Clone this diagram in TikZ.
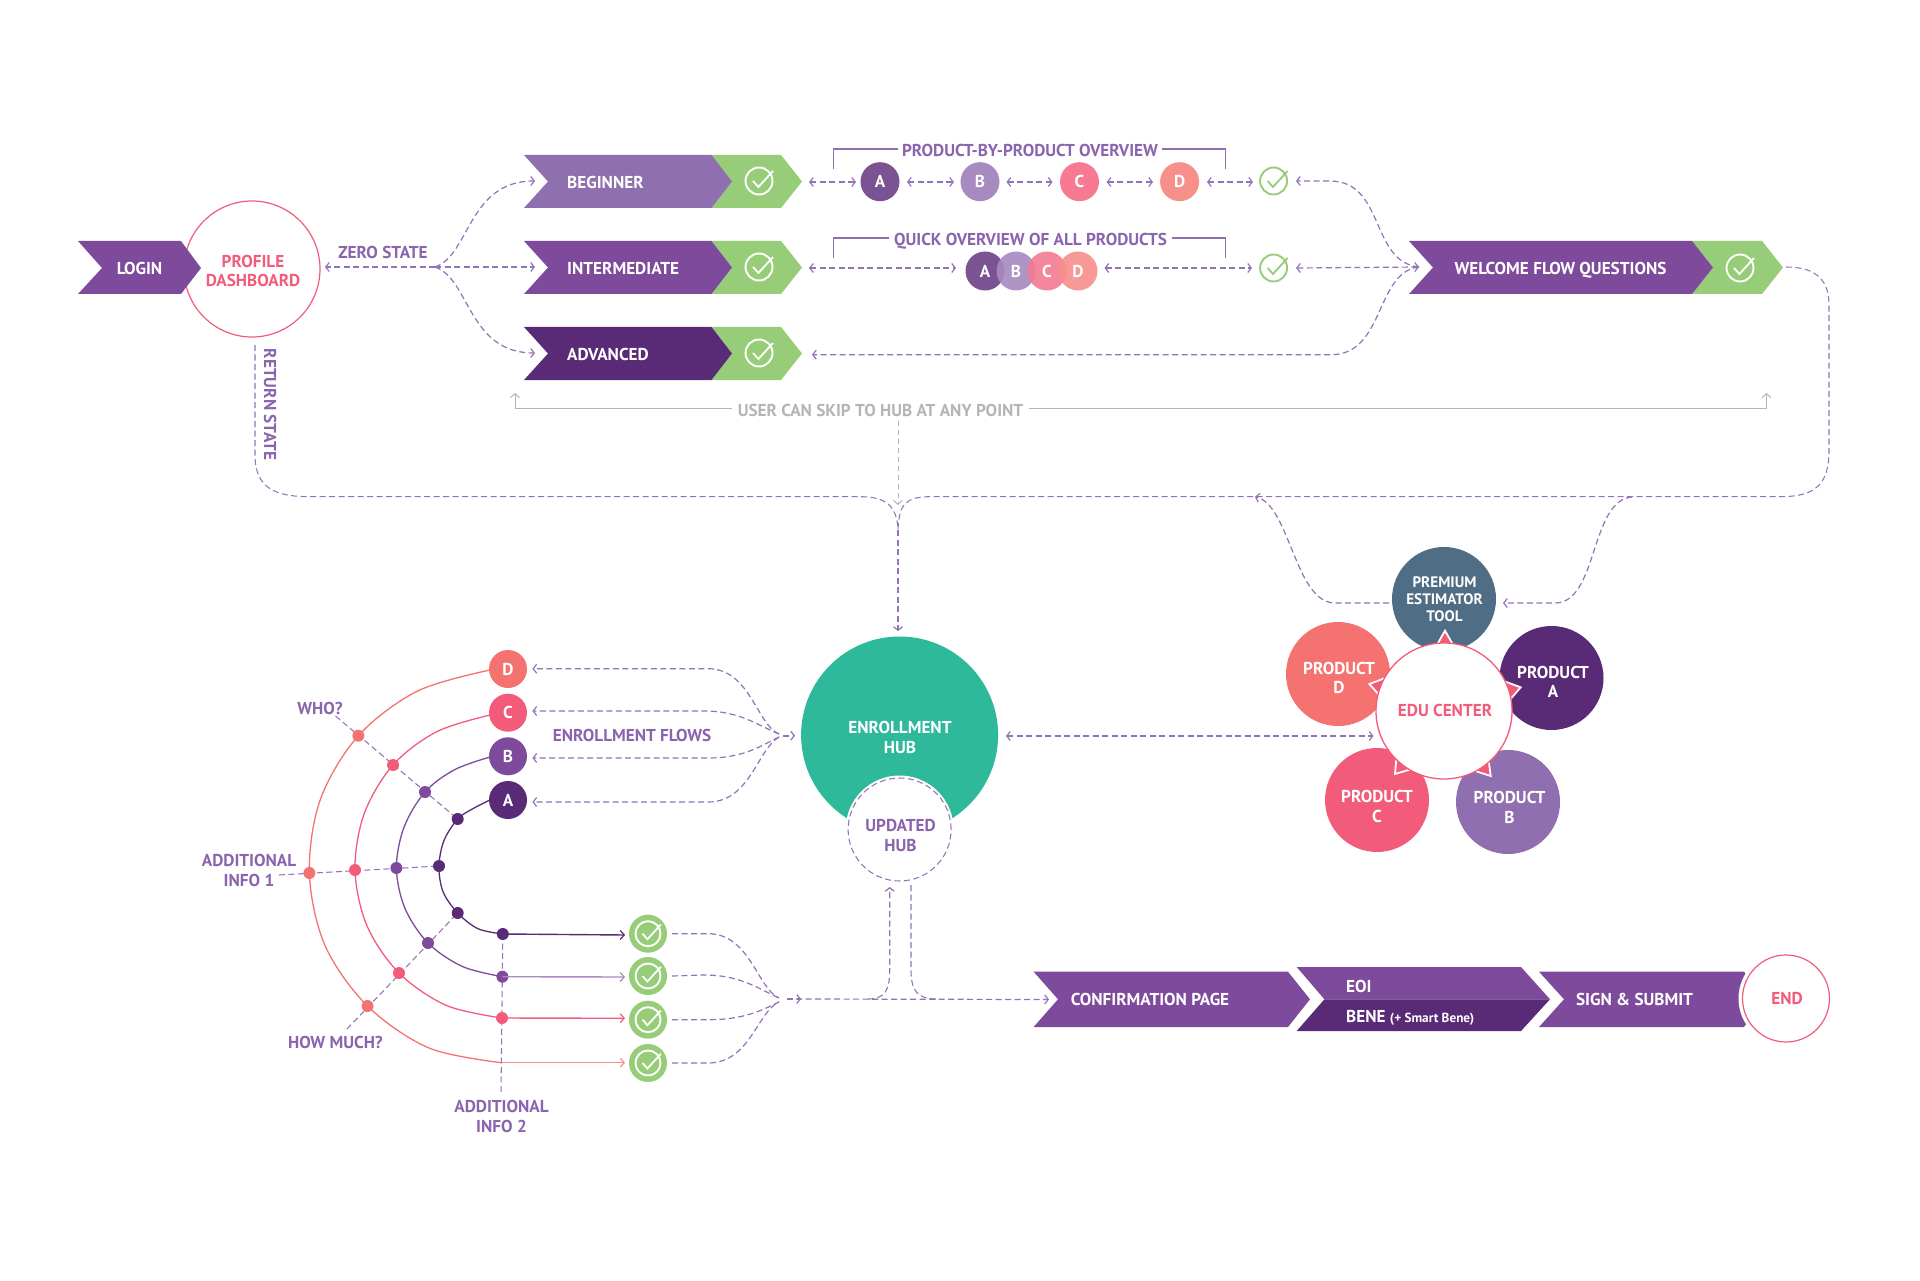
\documentclass[tikz,border=0pt]{standalone}
\usepackage{fontspec}
\setmainfont{PT Sans}
\usetikzlibrary{arrows.meta}
\definecolor{pmid}{HTML}{7E4A9B}
\definecolor{plight}{HTML}{8F6FAF}
\definecolor{pdark}{HTML}{592A75}
\definecolor{ptext}{HTML}{8A64AE}
\definecolor{dashc}{HTML}{9273B8}
\definecolor{grn}{HTML}{97CC78}
\definecolor{teal}{HTML}{2EB99B}
\definecolor{salm}{HTML}{F47370}
\definecolor{pnk}{HTML}{F25C7A}
\definecolor{slate}{HTML}{4F6D85}
\definecolor{gry}{HTML}{B5B5B5}
\definecolor{ta}{HTML}{7B5292}
\definecolor{tb}{HTML}{A78AC0}
\definecolor{tc}{HTML}{F57A92}
\definecolor{td}{HTML}{F78F8B}
\newcommand{\chev}[8]{\fill[#1] (#2,#6) -- (#4,#6) -- (#5,#7) -- (#4,#8) -- (#2,#8) -- (#3,#7) -- cycle;}
\newcommand{\tickin}[3]{\draw[#3,line width=1.8pt,line join=miter,shift={(#1.center)},scale=#2] (-6,0) -- (-0.6,6) -- (14,-10);}
\tikzset{
 x=1pt,y=-1pt,
 lbl/.style={font=\bfseries\fontsize{17.2}{19.5}\selectfont,align=center,inner sep=0pt,text=white},
 one/.style={text height=12pt,text depth=0pt},
 plab/.style={lbl,text=ptext},
 pinklab/.style={lbl,text=pnk},
 graylab/.style={lbl,text=gry},
 dsh/.style={draw=dashc,line width=1.2pt,dash pattern=on 6pt off 3.5pt},
 thin dsh/.style={draw=dashc,line width=1.05pt,dash pattern=on 6pt off 3.5pt},
 arr/.style={-{Straight Barb[length=3.5pt,width=9pt,line width=1.2pt]}},
 dbl/.style={{Straight Barb[length=3.5pt,width=9pt,line width=1.2pt]}-{Straight Barb[length=3.5pt,width=9pt,line width=1.2pt]}},
 solarr/.style={-{Straight Barb[length=4pt,width=9pt,line width=1.2pt]},line width=1.4pt},
 disc/.style={circle,inner sep=0pt,outer sep=0pt,minimum size=#1,lbl,one},
 ring/.style={circle,inner sep=0pt,outer sep=0pt,minimum size=#1,draw=grn,line width=1.9pt},
 wring/.style={circle,inner sep=0pt,outer sep=0pt,minimum size=#1,draw=white,line width=1.9pt},
 dot/.style={circle,inner sep=0pt,outer sep=0pt,minimum size=12pt},
 graytip/.style={-{Straight Barb[length=4pt,width=9pt,line width=1pt]},draw=gry,line width=1pt},
 star/.style={fill=pnk,draw=white,line width=1.8pt,line join=miter},
}
\begin{document}
\begin{tikzpicture}
\useasboundingbox (0,0) rectangle (1920,1281);
\fill[white] (0,0) rectangle (1920,1281);

% --- login + profile
\node[circle,draw=pnk,fill=white,line width=1.2pt,minimum size=136pt,inner sep=0pt,outer sep=0pt] (profile) at (252,269) {};
\chev{pmid}{78}{102}{181}{201}{241}{268}{294}
\node[lbl,one] (login) at (139.5,268.5) {LOGIN};
\node[pinklab] (profiletxt) at (253,271.2) {PROFILE\\DASHBOARD};

% --- level chevrons
\chev{grn}{711.5}{732}{781}{802}{155}{181.5}{208}
\chev{plight}{524}{548}{711.5}{732}{155}{181.5}{208}
\chev{grn}{711.5}{732}{781}{802}{241}{267.5}{294}
\chev{pmid}{524}{548}{711.5}{732}{241}{267.5}{294}
\chev{grn}{711.5}{732}{781}{802}{327}{353.5}{380}
\chev{pdark}{524}{548}{711.5}{732}{327}{353.5}{380}
\node[lbl,one,anchor=west] (beginner) at (567,182.5) {BEGINNER};
\node[lbl,one,anchor=west] (intermediate) at (567,268.5) {INTERMEDIATE};
\node[lbl,one,anchor=west] (advanced) at (567,354.5) {ADVANCED};
\node[wring=27pt] (ck1) at (759,181) {}; \tickin{ck1}{1}{white}
\node[wring=27pt] (ck2) at (759,267) {}; \tickin{ck2}{1}{white}
\node[wring=27pt] (ck3) at (759,353) {}; \tickin{ck3}{1}{white}

% --- welcome chevron
\chev{grn}{1692}{1713}{1762}{1783}{241}{267.5}{294}
\chev{pmid}{1409}{1433}{1692}{1713}{241}{267.5}{294}
\node[lbl,one,anchor=center] (welcome) at (1560.5,268.5) {WELCOME FLOW QUESTIONS};
\node[wring=27pt] (ck4) at (1740,268) {}; \tickin{ck4}{1}{white}

% --- zero state connectors
\coordinate (split) at (435,267);
\coordinate (inBeg) at (535,181);
\coordinate (inInt) at (535,267);
\coordinate (inAdv) at (535,353);
\coordinate (welIn) at (1419,267);
\draw[dsh,arr] (split) -- (325,267);
\draw[dsh,arr] (split) -- (inInt);
\draw[dsh,arr] (split) .. controls (470,255) and (468,181) .. (inBeg);
\draw[dsh,arr] (split) .. controls (470,279) and (468,353) .. (inAdv);
\node[plab,one] (zero) at (383,252.5) {ZERO STATE};

% --- return state
\node[plab,one,rotate=-90] (ret) at (270,404.5) {RETURN STATE};
\coordinate (hubdrop) at (898,530);
\coordinate (retstart) at (255,345);
\coordinate (welOut) at (1786,267);
\draw[thin dsh] (retstart) -- (255,455) .. controls (255,488) and (275,496.7) .. (310,496.7) -- (860,496.7) .. controls (885,496.7) and (897,505) .. (hubdrop);
\draw[thin dsh] (welOut) .. controls (1810,267) and (1829,275) .. (1829,305) -- (1829,450) .. controls (1829,485) and (1815,496.7) .. (1780,496.7) -- (930,496.7) .. controls (905,496.7) and (899,505) .. (hubdrop);

% --- row 1
\node[plab,one,outer sep=4pt] (pbp) at (1030,151) {PRODUCT-BY-PRODUCT OVERVIEW};
\draw[draw=plight,line width=1.1pt] (833.5,169) -- (833.5,149) -- (pbp.west |- 0,149);
\draw[draw=plight,line width=1.1pt] (1225.5,169) -- (1225.5,149) -- (pbp.east |- 0,149);
\node[disc=39pt,fill=ta] (a1) at (880,181.7) {A};
\node[disc=39pt,fill=tb] (b1) at (980,181.7) {B};
\node[disc=39pt,fill=tc] (c1) at (1079.5,181.7) {C};
\node[disc=39pt,fill=td] (d1) at (1179.6,181.7) {D};
\node[ring=27pt] (g1) at (1273.6,181) {}; \tickin{g1}{1}{grn}
\coordinate (r1s) at (809,182);
\draw[dsh,dbl] (r1s) -- (856,182);
\draw[dsh,dbl] (907,182) -- (954,182);
\draw[dsh,dbl] (1006.5,182) -- (1052.5,182);
\draw[dsh,dbl] (1106.6,182) -- (1153,182);
\draw[dsh,dbl] (1207,182) -- (1253,182);
\draw[dsh,arr] (welIn) .. controls (1370,262) and (1385,181) .. (1330,181) -- (1296,181);

% --- row 2
\node[plab,one,outer sep=5pt] (qo) at (1030.5,240) {QUICK OVERVIEW OF ALL PRODUCTS};
\draw[draw=plight,line width=1.1pt] (833.5,258) -- (833.5,238) -- (qo.west |- 0,238);
\draw[draw=plight,line width=1.1pt] (1225.5,258) -- (1225.5,238) -- (qo.east |- 0,238);
\node[disc=39pt,fill=ta] (a2) at (985,271) {};
\node[disc=39pt,fill=tb,fill opacity=.9] (b2) at (1016,271) {};
\node[disc=39pt,fill=tc,fill opacity=.9] (c2) at (1047,271) {};
\node[disc=39pt,fill=td,fill opacity=.9] (d2) at (1078,271) {};
\node[lbl,one] (a2t) at (985,271.5) {A};
\node[lbl,one] (b2t) at (1016,271.5) {B};
\node[lbl,one] (c2t) at (1047,271.5) {C};
\node[lbl,one] (d2t) at (1078,271.5) {D};
\node[ring=27pt] (g2) at (1273.6,268) {}; \tickin{g2}{1}{grn}
\draw[dsh,dbl] (809,268) -- (956,268);
\draw[dsh,dbl] (1104.5,268) -- (1252,268);
\draw[dsh,dbl] (1296,268) -- (welIn);

% --- row 3
\draw[dsh,arr] (welIn) .. controls (1375,272) and (1385,354.7) .. (1331,354.7) -- (812,354.7);

% --- skip
\node[graylab,one,outer sep=6pt] (skip) at (880.5,410) {USER CAN SKIP TO HUB AT ANY POINT};
\draw[graytip] (skip.west |- 0,408) -- (515,408) -- (515,393);
\draw[graytip] (skip.east |- 0,408) -- (1766.5,408) -- (1766.5,393);
\draw[draw=gry,line width=.8pt,dash pattern=on 5pt off 4pt,-{Straight Barb[length=4pt,width=9pt,line width=1pt]}] (898,421) -- (898,505);

% --- enrollment hub
\node[circle,fill=teal,minimum size=197pt,inner sep=0pt,outer sep=0pt] (hub) at (899.6,735) {};
\node[lbl] (hubt) at (900,737.5) {ENROLLMENT\\HUB};
\node[circle,fill=white,minimum size=108pt,inner sep=0pt,outer sep=0pt] (upd) at (899.6,829.5) {};
\node[circle,thin dsh,minimum size=103pt,inner sep=0pt,outer sep=0pt] (updr) at (899.6,829.5) {};
\node[plab] (updt) at (900.5,835.5) {UPDATED\\HUB};
\draw[thin dsh,line width=1.2pt,arr] (hubdrop) -- (898,631);

% --- edu cluster
\node[disc=104pt,fill=slate] (prem) at (1444,599) {};
\node[disc=104pt,fill=pdark] (pa) at (1551.5,678) {};
\node[disc=104pt,fill=salm] (pd) at (1338,674) {};
\node[disc=104pt,fill=pnk] (pc) at (1377,800) {};
\node[disc=104pt,fill=plight] (pb) at (1508,802) {};
\path[star] (1445,630.7) -- (1434,650) -- (1456,650) -- cycle;
\path[star] (1520.7,687.3) -- (1501,680) -- (1508,702) -- cycle;
\path[star] (1490.7,776) -- (1472,770) -- (1488,755) -- cycle;
\path[star] (1369.3,684) -- (1388,677) -- (1381,697) -- cycle;
\path[star] (1395,774) -- (1397,752) -- (1415,768) -- cycle;
\node[circle,draw=pnk,fill=white,line width=1.3pt,minimum size=136pt,inner sep=0pt,outer sep=0pt] (edu) at (1444,711) {};
\node[pinklab,one] (edut) at (1445,710.5) {EDU CENTER};
\node[lbl,font=\bfseries\fontsize{15.2}{17.2}\selectfont] (premt) at (1444.5,599.5) {PREMIUM\\ESTIMATOR\\TOOL};
\node[lbl] (pat) at (1553,682) {PRODUCT\\A};
\node[lbl] (pdt) at (1339,678) {PRODUCT\\D};
\node[lbl] (pct) at (1377,806.5) {PRODUCT\\C};
\node[lbl] (pbt) at (1509.5,807.5) {PRODUCT\\B};
\draw[dsh,dbl] (1006,736) -- (1373.5,736);
\coordinate (skipJoin) at (1255,496.7);
\draw[dsh,arr] (1389,603) -- (1335,603) .. controls (1295,603) and (1290,505) .. (skipJoin);
\draw[dsh,arr] (1632,497) .. controls (1590,500) and (1598,603) .. (1555,603) -- (1503,603);

% --- enrollment flow arcs
\node[disc=38pt,fill=salm] (fd) at (508,669) {D};
\node[disc=38pt,fill=pnk] (fc) at (508,712.7) {C};
\node[disc=38pt,fill=pmid] (fb) at (508,756.3) {B};
\node[disc=38pt,fill=pdark] (fa) at (508,800) {A};

\coordinate (whoEnd) at (335.5,716);
\coordinate (infoEnd) at (279,875);
\coordinate (howEnd) at (347,1029);
\coordinate (info2End) at (501,1095);
\coordinate (end4) at (501.6,1062.7);
\foreach \n/\p in {da/{358.4,735.7},ca/{393,765},ba/{425,792},aa/{457.7,819},
 db/{309.4,873},cb/{355,870},bb/{396.4,868},ab/{439,866},
 dc/{367.5,1006},cc/{399,973},bc/{428,943},ac/{457.7,913},
 cd/{502,1018},bd/{502.4,976.7},ad/{502.8,934}}{
 \coordinate (\n) at (\p);
}
\draw[thin dsh] (whoEnd) -- (aa);
\draw[thin dsh] (infoEnd) -- (ab);
\draw[thin dsh] (howEnd) -- (ac);
\draw[thin dsh] (ad) -- (info2End);

\draw[pdark,line width=1.3pt] plot[smooth,tension=.55] coordinates {(490,800) (472.7,808.8) (aa) (444,840.5) (ab) (443,891.6) (ac) (478,928.7) (ad)};
\draw[pmid,line width=1.3pt] plot[smooth,tension=.55] coordinates {(490,757) (454.4,769.8) (ba) (404,827.3) (bb) (405,908.4) (bc) (462.4,966.5) (bd)};
\draw[pnk,line width=1.3pt] plot[smooth,tension=.55] coordinates {(490,715) (436.7,731.7) (ca) (364.2,813.7) (cb) (367,925.8) (cc) (446.3,1005.4) (cd)};
\draw[salm,line width=1.3pt] plot[smooth,tension=.55] coordinates {(490,670) (417.6,691) (da) (320.4,799.4) (db) (325,945.4) (dc) (429,1048) (end4)};

\foreach \n/\c in {da/salm,ca/pnk,ba/pmid,aa/pdark,db/salm,cb/pnk,bb/pmid,ab/pdark,dc/salm,cc/pnk,bc/pmid,ac/pdark,cd/pnk,bd/pmid,ad/pdark}{
 \node[dot,fill=\c] (dot\n) at (\n) {};
}
\coordinate (t1) at (625,935);
\coordinate (t2) at (625,977);
\coordinate (t3) at (625,1018.3);
\coordinate (t4) at (625,1062.7);
\draw[solarr,pdark] (ad) -- (t1);
\draw[solarr,tb] (bd) -- (t2);
\draw[solarr,pnk] (cd) -- (t3);
\draw[solarr,td] (end4) -- (t4);
\foreach \n/\y in {1/933.7,2/976,3/1019.7,4/1063}{
 \node[circle,fill=grn,minimum size=38pt,inner sep=0pt,outer sep=0pt] (gc\n) at (648,\y) {};
 \node[wring=25pt] (gr\n) at (648,\y) {};
 \tickin{gr\n}{.92}{white}
}
\node[plab,one] (who) at (320,708) {WHO?};
\node[plab] (info1) at (249,870.5) {ADDITIONAL\\INFO 1};
\node[plab,one] (how) at (335.5,1042) {HOW MUCH?};
\node[plab] (info2) at (501.5,1116.5) {ADDITIONAL\\INFO 2};
\node[plab,one] (flows) at (632,735.5) {ENROLLMENT FLOWS};

% --- hub inflow
\coordinate (jA) at (779,734);
\coordinate (jB) at (779,737);
\draw[dsh,arr] (jA) .. controls (757,725) and (750,668.7) .. (708,668.7) -- (532.4,668.7);
\draw[dsh,arr] (jA) .. controls (757,725) and (740,711) .. (704,711) -- (532.4,711);
\draw[dsh,arr] (jB) .. controls (762,745) and (745,758) .. (708,758) -- (532.4,758);
\draw[dsh,arr] (jB) .. controls (757,750) and (750,802) .. (708,802) -- (532.4,802);
\draw[dsh,line width=1.6pt,arr] (783,735.7) -- (795,735.7);
\coordinate (kA) at (779,998);
\coordinate (kB) at (779,1002);
\draw[dsh] (gc1.east) ++(5,0) -- (708,933.7) .. controls (750,933.7) and (757,988) .. (kA);
\draw[dsh] (gc2.east) ++(5,0) -- (704,975) .. controls (740,975) and (757,988) .. (kA);
\draw[dsh] (gc3.east) ++(5,0) -- (708,1019.7) .. controls (745,1019.7) and (762,1010) .. (kB);
\draw[dsh] (gc4.east) ++(5,0) -- (708,1063) .. controls (750,1063) and (757,1012) .. (kB);
\draw[dsh,line width=1.6pt,arr] (787,999) -- (801,999);

% --- bottom process
\chev{pmid}{1033.6}{1058}{1288}{1310}{971.7}{999.3}{1027}
\fill[pmid] (1296.7,967) -- (1521,967) -- (1550,999.3) -- (1324.4,999.3) -- cycle;
\fill[pdark] (1324.4,999.3) -- (1550,999.3) -- (1521,1031) -- (1296.7,1031) -- cycle;
\chev{pmid}{1539}{1564}{1744}{1765}{971.7}{999.3}{1027}
\node[circle,fill=white,minimum size=95pt,inner sep=0pt,outer sep=0pt] (endw) at (1786,998.5) {};
\node[circle,draw=pnk,fill=white,line width=1.2pt,minimum size=87pt,inner sep=0pt,outer sep=0pt] (endc) at (1786,998.5) {};
\node[pinklab,one] (endt) at (1787,998.5) {END};
\node[lbl,one] (conf) at (1150,999.5) {CONFIRMATION PAGE};
\node[lbl,one,anchor=west] (eoi) at (1346,986) {EOI};
\node[lbl,one,anchor=west] (bene) at (1346,1016) {BENE {\fontsize{13.2}{15}\selectfont (+ Smart Bene)}};
\node[lbl,one] (sign) at (1634.5,999.5) {SIGN \& SUBMIT};
\coordinate (mainS) at (796,999);
\coordinate (confIn) at (1049,999.5);
\draw[dsh,arr] (mainS) -- (confIn);
\draw[thin dsh,line width=1.1pt,arr] (868,999) .. controls (885,999) and (889.7,990) .. (889.7,970) -- (889.7,887);
\draw[thin dsh,line width=1.1pt] (911,885) -- (911,970) .. controls (911,990) and (917,999) .. (936,999);
\end{tikzpicture}
\end{document}
